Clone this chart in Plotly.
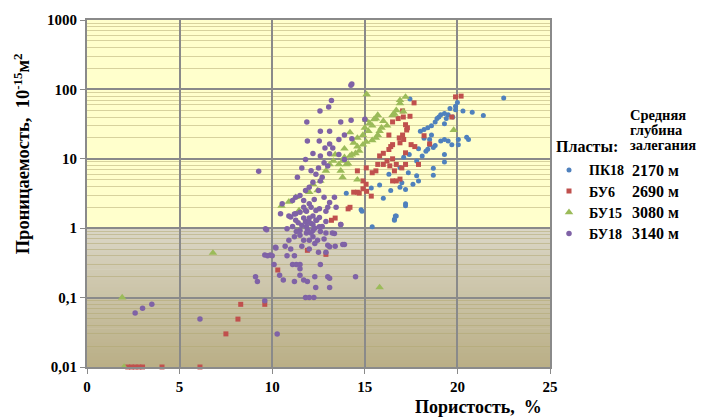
import numpy as np
import plotly.graph_objects as go

# ---- data: porosity (%) vs permeability (10^-15 m^2) by formation ----
layers = ["ПК18", "БУ6", "БУ15", "БУ18"]
depths = ["2170 м", "2690 м", "3080 м", "3140 м"]

pk18_por = [22.5, 21.4, 20.8, 20.3, 19.9, 19.9, 20.0, 19.6, 19.75, 19.5, 19.3, 19.1, 18.9, 19.4,
            18.8, 18.6, 18.4, 18.2, 18.0, 19.3, 19.0, 18.2, 18.5, 18.5, 19.1, 19.3, 19.5, 19.7,
            20.05, 20.05, 20.5, 20.6, 18.8, 18.7, 18.4, 18.3, 19.3, 19.3, 18.7, 18.1, 17.8, 17.4,
            17.1, 18.7, 17.8, 17.6, 17.35, 17.0, 17.2, 16.9, 16.4, 16.7, 16.6, 17.2, 16.0, 15.35,
            14.8, 14.0, 15.4, 14.85, 16.6, 16.65, 17.2, 17.44, 18.6, 17.9, 16.3, 15.8, 16.9, 17.9]
pk18_perm = [75, 42, 47, 49, 57, 51, 65, 53, 40, 43, 45, 43, 38, 38,
             34, 30, 28, 26.5, 25, 32, 40, 19.7, 19, 16, 18, 19, 18, 16,
             19, 16, 20.5, 19, 15.5, 14.5, 13.7, 12.9, 11.5, 9.0, 7.3, 11, 9.3, 11.5,
             10.5, 5.8, 5.7, 4.3, 6.3, 4.5, 3.6, 3.9, 3.5, 1.5, 1.35, 2.25, 2.7, 3.8,
             1.85, 3.2, 1.05, 1.75, 1.3, 1.5, 2.1, 73, 22, 14, 6.0, 4.2, 7.5, 4.8]

bu6_por = [2.2, 2.4, 2.6, 2.8, 3.0, 4.05, 6.1, 8.3, 8.15, 7.5, 9.6, 10.3, 11.9, 12.9,
           13.2, 13.4, 14.1, 19.9, 20.2, 19.7, 18.2, 18.5, 17.66, 17.04, 17.08, 17.44, 16.8, 16.5,
           17.2, 17.26, 17.04, 16.86, 17.1, 16.9, 16.5, 17.7, 17.5, 17.2, 16.4, 16.3, 16.5, 16.2,
           16.0, 15.7, 15.6, 15.4, 16.7, 17.0, 17.2, 16.6, 17.9, 15.08, 14.6, 14.9, 14.9, 14.6,
           14.4, 15.35, 14.2, 16.35, 16.5, 16.9, 15.07, 14.7, 15.1, 16.7, 16.0, 15.8, 17.3, 16.3]
bu6_perm = [0.01, 0.01, 0.01, 0.01, 0.01, 0.01, 0.01, 0.08, 0.049, 0.03, 0.08, 0.25, 0.48, 0.42,
            1.3, 1.4, 1.9, 78, 80, 40, 21.5, 16.4, 64, 49, 40, 41, 38, 34,
            31, 26, 22, 20, 19, 17, 16, 15, 16, 12.2, 15, 13.6, 10, 9.3,
            8.3, 8.3, 6.7, 6.3, 8.3, 7.4, 8.3, 6.7, 8.3, 7.4, 6.7, 4.8, 3.7, 3.3,
            3.3, 2.9, 2.0, 7.9, 4.8, 5.1, 4.3, 3.2, 3.4, 4.8, 12, 11, 28, 22]

bu15_por = [2.0, 1.9, 6.8, 15.8, 15.1, 17.2, 16.9, 17.08, 16.5, 15.7, 15.6, 15.08, 15.26, 15.4,
            15.9, 15.8, 15.7, 15.6, 15.4, 15.08, 14.9, 14.6, 14.7, 14.5, 14.3, 14.2, 13.9, 13.8,
            14.0, 13.6, 13.7, 13.8, 14.1, 13.4, 13.3, 13.1, 19.8, 14.6, 12.45, 10.9, 11.27, 11.45,
            12.6, 12.9, 16.6, 15.5, 16.2, 16.7, 14.9, 15.2, 14.6, 15.0, 14.4, 16.9, 16.0, 10.5,
            12.0, 13.9, 14.2, 12.2]
bu15_perm = [0.01, 0.1, 0.44, 0.14, 85, 78, 63, 48, 42.7, 42.7, 38, 36, 32.5, 30,
             28, 25, 22, 20, 18.5, 17.5, 16, 15, 13, 12, 11.5, 11, 10.5, 9.3,
             8.3, 8.3, 6.7, 5.4, 8.5, 11.5, 9.3, 8.3, 26, 5.0, 3.5, 2.4, 2.8, 1.8,
             4.8, 6.7, 44.5, 37, 30, 50, 22, 25, 20, 28, 17, 70, 35, 2.1,
             3.3, 14, 24, 4.3]

bu18_por = [14.3, 14.25, 13.2, 13.05, 12.58, 11.87, 9.27, 14.26, 15.0, 12.6, 13.1, 13.9, 11.9, 12.54,
            13.1, 13.6, 14.3, 12.85, 12.2, 12.6, 13.1, 13.27, 13.6, 13.9, 11.8, 12.8, 13.0, 12.5,
            11.6, 12.1, 12.36, 12.7, 12.6, 12.2, 12.0, 11.36, 11.8, 11.5, 11.27, 11.1, 11.7, 12.0,
            12.27, 12.5, 12.8, 13.1, 13.36, 13.45, 12.36, 11.8, 11.27, 11.0, 10.54, 10.45, 11.27, 11.8,
            12.1, 12.36, 12.9, 12.54, 13.36, 13.81, 9.64, 10.18, 9.9, 9.6, 13.7, 13.7,
            3.5, 3.0, 2.6, 6.1, 9.6, 10.27, 10.4, 9.7, 9.75, 10.0, 10.1, 9.1, 9.2, 10.2,
            10.7, 10.8, 11.2, 11.1, 11.3, 11.5, 10.6, 11.2, 11.7, 11.9, 12.3, 11.5, 11.5, 11.8,
            12.0, 12.25, 12.35, 12.6, 13.0, 13.1, 13.1, 14.5, 13.9, 13.4, 13.1, 13.0, 12.8, 13.25,
            13.7, 10.8, 11.1, 11.5, 11.85, 12.2, 12.0, 12.4, 12.55, 12.2, 11.85, 11.5, 11.2, 10.9,
            12.2, 12.45, 12.0, 11.7, 12.7, 12.9, 10.9, 11.2, 11.5, 11.85, 12.2, 12.55, 11.7, 12.1,
            12.9, 13.0, 11.6, 11.9, 12.1, 12.3, 11.4, 11.7, 12.0, 11.3, 12.6, 12.3, 11.6, 12.0,
            12.9, 12.5, 11.0]
bu18_perm = [120, 115, 69, 56, 49, 34, 6.6, 36, 37, 25, 25, 22, 18, 18,
             16.3, 19, 19.5, 14.3, 11.9, 11, 11.8, 14.3, 11.5, 9.8, 9.8, 8.8, 7.9, 7.4,
             7.4, 6.7, 6.0, 5.4, 4.8, 4.6, 3.9, 5.4, 3.5, 2.97, 2.8, 2.5, 2.5, 2.25,
             2.6, 3.5, 2.8, 2.35, 2.8, 2.0, 1.8, 1.8, 1.62, 1.45, 2.25, 1.62, 1.3, 1.25,
             1.17, 1.3, 1.25, 1.05, 0.84, 0.58, 0.98, 0.53, 0.41, 0.41, 34, 1.13,
             0.08, 0.07, 0.06, 0.049, 0.09, 0.03, 0.21, 0.95, 0.40, 0.40, 0.30, 0.2, 0.17, 0.52,
             0.55, 0.4, 0.4, 0.3, 0.3, 0.3, 0.18, 0.17, 0.18, 0.17, 0.2, 0.26, 0.21, 0.1,
             0.1, 0.1, 0.14, 0.3, 0.2, 0.19, 0.14, 0.2, 0.58, 0.55, 0.54, 0.57, 0.7, 0.85,
             1.13, 0.98, 1.06, 0.93, 1.06, 1.13, 1.22, 1.3, 1.43, 0.93, 0.85, 0.79, 0.75, 0.67,
             0.75, 0.67, 0.67, 0.67, 1.06, 0.85, 1.5, 1.6, 1.7, 1.75, 1.5, 1.9, 2.0, 2.0,
             1.75, 2.0, 1.1, 0.95, 0.85, 1.0, 1.2, 1.4, 1.4, 0.9, 0.9, 0.6, 0.55, 0.5,
             0.45, 0.45, 0.5]

y_tickvals = [0.01, 0.1, 1, 10, 100, 1000]
y_ticktext = ["0,01", "0,1", "1", "10", "100", "1000"]
x_tickvals = [0, 5, 10, 15, 20, 25]

# ---- styling ----
FONT = "Liberation Serif"
GRID = "#8a8a8a"
styles = [
    dict(color="#4F81BD", symbol="circle", size=5),
    dict(color="#C0504D", symbol="square", size=5),
    dict(color="#9BBB59", symbol="triangle-up", size=7.5),
    dict(color="#7F62A6", symbol="circle", size=5.5),
]
xs = [pk18_por, bu6_por, bu15_por, bu18_por]
ys = [pk18_perm, bu6_perm, bu15_perm, bu18_perm]

fig = go.Figure()
for name, x, y, st in zip(layers, xs, ys, styles):
    fig.add_trace(go.Scatter(
        x=x, y=y, mode="markers", name=name, cliponaxis=False,
        marker=dict(color=st["color"], symbol=st["symbol"], size=st["size"], line=dict(width=0)),
    ))

Y_MIN, Y_MAX = -2, 3  # log10 range of permeability axis


def yfrac(v):
    return (np.log10(v) - Y_MIN) / (Y_MAX - Y_MIN)


# background: pale yellow above 1, grey-tan gradient below 1
shapes = [dict(type="rect", xref="paper", yref="paper", x0=0, x1=1,
               y0=yfrac(1), y1=1, fillcolor="#FFFFCC", line=dict(width=0), layer="below")]
top_c = np.array([219, 215, 199])
bot_c = np.array([186, 175, 134])
n_bands = 40
edges = np.linspace(yfrac(0.01), yfrac(1), n_bands + 1)
for i in range(n_bands):
    t = (i + 0.5) / n_bands
    c = bot_c + (top_c - bot_c) * t
    shapes.append(dict(type="rect", xref="paper", yref="paper", x0=0, x1=1,
                       y0=edges[i], y1=edges[i + 1] + 0.002,
                       fillcolor="rgb(%d,%d,%d)" % tuple(c.astype(int)),
                       line=dict(width=0), layer="below"))

annotations = [
    dict(text="<b>Проницаемость,  10<sup>-15</sup>м<sup>2</sup></b>", textangle=-90,
         xref="paper", yref="paper", x=(22 - 87) / 463, y=1 - (150 - 13) / 354, showarrow=False,
         font=dict(family=FONT, size=18.5, color="black"), xanchor="center", yanchor="middle"),
    dict(text="<b>Пористость,  %</b>", xref="paper", yref="paper", x=0.845, y=-0.116,
         showarrow=False, font=dict(family=FONT, size=18, color="black"),
         xanchor="center", yanchor="middle"),
    dict(text="<b>Пласты:</b>", xref="paper", yref="paper", x=(554 - 87) / 463,
         y=1 - (142 - 13) / 354, showarrow=False, xanchor="left", yanchor="middle",
         font=dict(family=FONT, size=16, color="black")),
]
for i, line in enumerate(["Средняя", "глубина", "залегания"]):
    annotations.append(dict(text="<b>%s</b>" % line, xref="paper", yref="paper",
                            x=(628 - 87) / 463, y=1 - (110 + 15.5 * i - 13) / 354,
                            showarrow=False, xanchor="left", yanchor="middle",
                            font=dict(family=FONT, size=14.5, color="black")))
for i, d in enumerate(depths):
    annotations.append(dict(text="<b>%s</b>" % d, xref="paper", yref="paper",
                            x=(630 - 87) / 463, y=1 - (167 + 21.3 * i - 13) / 354,
                            showarrow=False, xanchor="left", yanchor="middle",
                            font=dict(family=FONT, size=16, color="black")))

fig.update_layout(
    width=721, height=419,
    margin=dict(l=87, r=171, t=13, b=52),
    paper_bgcolor="white", plot_bgcolor="rgba(0,0,0,0)",
    font=dict(family=FONT, color="black"),
    shapes=shapes, annotations=annotations,
    showlegend=True,
    legend=dict(x=(549 - 87) / 463, y=1 - (150 - 13) / 354, xanchor="left", yanchor="top",
                bgcolor="rgba(0,0,0,0)", font=dict(family=FONT, size=14, color="black",
                                                   weight="bold"),
                itemclick=False, tracegroupgap=0, itemwidth=30),
    xaxis=dict(range=[0, 25], tickvals=x_tickvals, ticktext=[str(v) for v in x_tickvals],
               showgrid=True, gridcolor=GRID, gridwidth=2, zeroline=False,
               showline=True, linecolor=GRID, linewidth=2, mirror=True,
               ticks="outside", ticklen=5, tickcolor=GRID, tickwidth=1,
               tickfont=dict(family=FONT, size=15, color="black", weight="bold")),
    yaxis=dict(type="log", range=[Y_MIN, Y_MAX], tickvals=y_tickvals, ticktext=y_ticktext,
               showgrid=True, gridcolor=GRID, gridwidth=2, zeroline=False,
               showline=True, linecolor=GRID, linewidth=2, mirror=True,
               ticks="outside", ticklen=5, tickcolor=GRID, tickwidth=1,
               tickfont=dict(family=FONT, size=15, color="black", weight="bold"),
               minor=dict(dtick="D1", showgrid=True, gridcolor="rgba(175,165,110,0.5)",
                          gridwidth=1, ticks="")),
)

fig.write_html("out.html")
